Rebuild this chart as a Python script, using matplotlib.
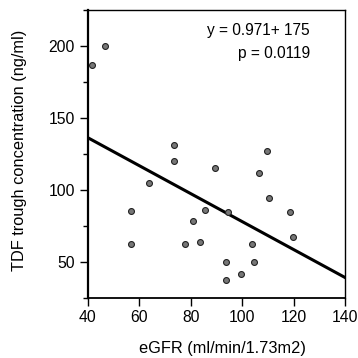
import numpy as np
import matplotlib.pyplot as plt

plt.rcParams['font.family'] = ['Liberation Sans', 'DejaVu Sans']

# eGFR vs TDF trough
egfr = [41.5, 46.5, 73.5, 73.5, 89.5, 109.5, 106.5, 63.6, 56.6, 56.6, 77.6, 80.7,
        83.6, 85.5, 94.6, 93.7, 93.7, 99.6, 103.7, 104.6, 110.5, 118.6, 119.6]
tdf = [187, 200, 131, 120, 115, 127, 112, 105, 85, 62, 62, 78,
       63.5, 86, 84.5, 49.5, 37.5, 41.5, 62.5, 49.5, 94.5, 84.5, 67.5]

slope = -0.971
intercept = 175

fig = plt.figure(figsize=(3.58, 3.58), dpi=100)
ax = fig.add_axes([0.2458, 0.1684, 0.7179, 0.8037])

ax.scatter(egfr, tdf, s=18, color='#777777', edgecolors='#222222', linewidths=0.8, zorder=3)

xl = np.array([40, 140])
ax.plot(xl, intercept + slope * xl, color='black', lw=2.2, zorder=2)

ax.set_xlim(40, 140)
ax.set_ylim(25, 225)
ax.set_xticks([40, 60, 80, 100, 120, 140])
ax.set_yticks([50, 100, 150, 200])
ax.set_yticks([25, 75, 125, 175, 225], minor=True)
ax.tick_params(axis='both', which='major', direction='out', length=6, width=1,
               labelsize=11.3, colors='black')
ax.tick_params(axis='y', which='minor', direction='out', length=3.5, width=1)
ax.tick_params(axis='x', pad=3)

for s in ['top', 'right']:
    ax.spines[s].set_linewidth(1)
ax.spines['left'].set_linewidth(1.6)
ax.spines['bottom'].set_linewidth(1.3)

ax.text(0.864, 0.93, 'y = 0.971+ 175', transform=ax.transAxes, ha='right', va='center', fontsize=11.2)
ax.text(0.864, 0.85, 'p = 0.0119', transform=ax.transAxes, ha='right', va='center', fontsize=11.2)

ax.set_xlabel('eGFR (ml/min/1.73m2)', fontsize=11.8)
ax.xaxis.set_label_coords(0.523, -0.15)
ax.set_ylabel('TDF trough concentration (ng/ml)', fontsize=11.8)
ax.yaxis.set_label_coords(-0.237, 0.513)

fig.savefig('out.png', dpi=100)
